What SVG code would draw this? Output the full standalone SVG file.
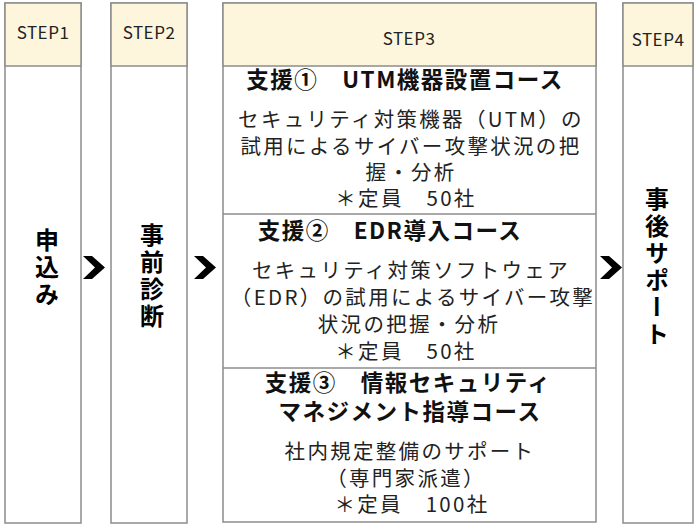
<svg xmlns="http://www.w3.org/2000/svg" width="700" height="529" viewBox="0 0 700 529">
<style>
.box{fill:#ffffff;stroke:#8c8c8c;stroke-width:1.5}
.hdr{fill:#fdf6dc;stroke:#8c8c8c;stroke-width:1.5}
.div{stroke:#8c8c8c;stroke-width:1.5}
.step{font-family:"Noto Sans CJK JP","Noto Sans",sans-serif;font-size:17px;fill:#222;text-anchor:middle;letter-spacing:0.5px}
.vt{font-family:"Noto Sans CJK JP",sans-serif;font-size:24px;font-weight:bold;fill:#000;text-anchor:middle;writing-mode:vertical-rl;letter-spacing:3px}
.ttl{font-family:"Noto Sans CJK JP",sans-serif;font-size:22.5px;font-weight:bold;fill:#111;text-anchor:middle;letter-spacing:1.5px}
.body{font-family:"Noto Sans CJK JP",sans-serif;font-size:20.5px;fill:#222;text-anchor:middle;letter-spacing:2.3px}
.chev{fill:#000}
</style>
<defs>
<path id="chevron" d="M0,0 H9 L22,11.5 L9,23 H0 L12,11.5 Z"/>
</defs>
<g id="step1">
<rect class="box" x="5" y="3" width="76" height="520"/>
<rect class="hdr" x="5" y="3" width="76" height="63"/>
<text class="step" x="43" y="39">STEP1</text>
<text class="vt" x="47" y="268">申込み</text>
</g>
<g id="step2">
<rect class="box" x="111" y="3" width="76" height="520"/>
<rect class="hdr" x="111" y="3" width="76" height="63"/>
<text class="step" x="149" y="39">STEP2</text>
<text class="vt" x="152" y="277">事前診断</text>
</g>
<g id="step3">
<rect class="box" x="223" y="3" width="373" height="519"/>
<rect class="hdr" x="223" y="3" width="373" height="63"/>
<text class="step" x="409" y="45">STEP3</text>
<line class="div" x1="223" y1="214" x2="596" y2="214"/>
<line class="div" x1="223" y1="368" x2="596" y2="368"/>
</g>
<g id="course1">
<text class="ttl" x="405" y="88">支援①　UTM機器設置コース</text>
<text class="body"><tspan x="411" y="127">セキュリティ対策機器（UTM）の</tspan><tspan x="411" y="154">試用によるサイバー攻撃状況の把</tspan><tspan x="411" y="180">握・分析</tspan><tspan x="406" y="206">＊定員　50社</tspan></text>
</g>
<g id="course2">
<text class="ttl" x="390" y="239">支援②　EDR導入コース</text>
<text class="body"><tspan x="411" y="278">セキュリティ対策ソフトウェア</tspan><tspan x="413" y="305">（EDR）の試用によるサイバー攻撃</tspan><tspan x="409" y="332">状況の把握・分析</tspan><tspan x="406" y="359">＊定員　50社</tspan></text>
</g>
<g id="course3">
<text class="ttl"><tspan x="408" y="391">支援③　情報セキュリティ</tspan><tspan x="410" y="420">マネジメント指導コース</tspan></text>
<text class="body"><tspan x="410" y="459">社内規定整備のサポート</tspan><tspan x="406" y="486">（専門家派遣）</tspan><tspan x="412" y="512">＊定員　100社</tspan></text>
</g>
<g id="step4">
<rect class="box" x="623" y="3" width="70" height="520"/>
<rect class="hdr" x="623" y="3" width="70" height="63"/>
<text class="step" x="658" y="46">STEP4</text>
<text class="vt" x="657" y="268">事後サポート</text>
</g>
<g id="connectors">
<use href="#chevron" class="chev" x="83" y="256"/>
<use href="#chevron" class="chev" x="194" y="256"/>
<use href="#chevron" class="chev" x="600" y="256"/>
</g>
</svg>
